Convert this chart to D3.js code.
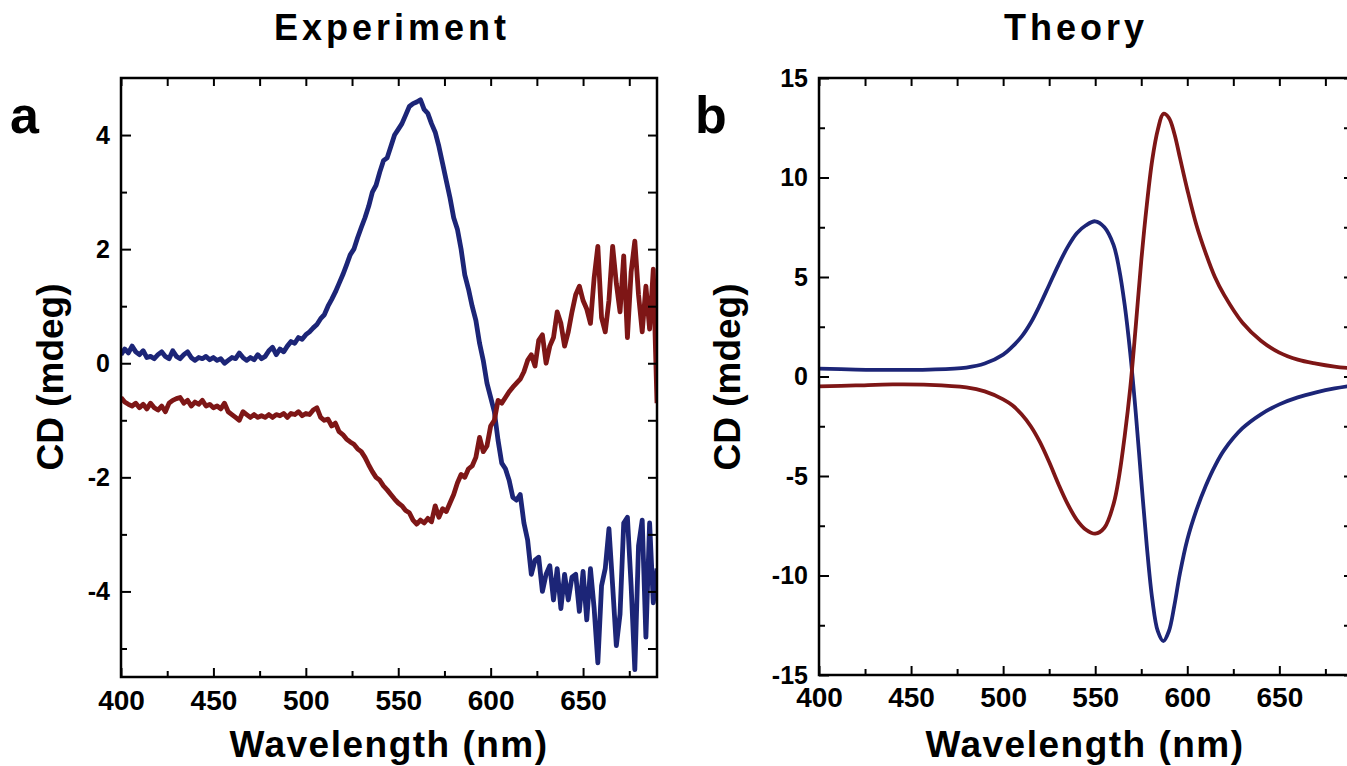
<!DOCTYPE html>
<html>
<head>
<meta charset="utf-8">
<script src="https://cdn.jsdelivr.net/npm/d3@7"></script>
<style>
  body { margin: 0; background: #fff; }
  text { font-family: "Liberation Sans", Arial, Helvetica, sans-serif; font-weight: bold; fill: #000; }
</style>
</head>
<body>
<svg id="fig" width="1347" height="766"></svg>
<script>
// ---- data ----
// experiment: 2 nm grid, 400..690 nm
var expWl = d3.range(400, 691, 2);
var expBlue = [
  0.15, 0.25, 0.18, 0.3, 0.2, 0.15, 0.22, 0.1, 0.12, 0.08,
  0.15, 0.2, 0.12, 0.08, 0.22, 0.12, 0.08, 0.15, 0.2, 0.1,
  0.05, 0.1, 0.08, 0.12, 0.06, 0.1, 0.05, 0.08, 0.0, 0.05,
  0.1, 0.08, 0.18, 0.1, 0.05, 0.1, 0.06, 0.15, 0.08, 0.12,
  0.22, 0.28, 0.15, 0.25, 0.2, 0.3, 0.38, 0.35, 0.45, 0.42,
  0.5, 0.55, 0.62, 0.68, 0.78, 0.85, 1.0, 1.12, 1.25, 1.4,
  1.55, 1.72, 1.9, 2.0, 2.2, 2.38, 2.55, 2.75, 3.0, 3.12,
  3.35, 3.55, 3.6, 3.8, 4.0, 4.1, 4.2, 4.35, 4.5, 4.55,
  4.58, 4.62, 4.45, 4.38, 4.2, 4.05, 3.8, 3.5, 3.2, 2.9,
  2.55, 2.35, 2.0, 1.55, 1.3, 1.0, 0.75, 0.35, 0.05, -0.35,
  -0.6, -0.85, -1.35, -1.75, -1.85, -2.05, -2.35, -2.4, -2.3, -2.8,
  -3.1, -3.7, -3.45, -3.4, -4.0, -3.7, -3.55, -4.15, -3.6, -4.3,
  -3.7, -4.15, -3.75, -3.7, -4.35, -3.65, -4.5, -3.6, -4.3, -5.25,
  -3.9, -3.6, -2.9, -3.9, -4.95, -4.4, -2.8, -2.7, -3.9, -5.37,
  -3.2, -2.75, -4.8, -2.8, -4.2, -3.6
];
var expRed = [
  -0.6, -0.68, -0.72, -0.75, -0.7, -0.78, -0.72, -0.8, -0.7, -0.78,
  -0.82, -0.75, -0.85, -0.7, -0.65, -0.62, -0.6, -0.7, -0.65, -0.75,
  -0.68, -0.72, -0.65, -0.75, -0.72, -0.78, -0.75, -0.8, -0.7, -0.85,
  -0.9, -0.95, -1.0, -0.85, -0.9, -0.95, -0.9, -0.95, -0.92, -0.95,
  -0.9, -0.95, -0.9, -0.92, -0.88, -0.95, -0.88, -0.9, -0.85, -0.92,
  -0.88, -0.9, -0.82, -0.78, -0.95, -1.0, -0.98, -1.1, -1.05, -1.2,
  -1.25, -1.33, -1.38, -1.42, -1.5, -1.55, -1.65, -1.78, -1.9, -2.0,
  -2.05, -2.15, -2.22, -2.3, -2.38, -2.45, -2.5, -2.58, -2.62, -2.75,
  -2.82, -2.75, -2.8, -2.72, -2.78, -2.5, -2.7, -2.55, -2.6, -2.45,
  -2.3, -2.1, -1.95, -2.0, -1.85, -1.8, -1.65, -1.3, -1.55, -1.45,
  -1.1, -1.0, -0.65, -0.7, -0.6, -0.5, -0.42, -0.35, -0.28, -0.15,
  0.05, 0.15, -0.05, 0.4, 0.5, 0.0, 0.3, 0.45, 0.9, 0.7,
  0.3, 0.55, 0.9, 1.2, 1.35, 1.1, 0.95, 0.7, 1.5, 2.05,
  0.8, 0.55, 1.1, 2.05, 1.4, 0.9, 1.88, 0.45, 1.6, 2.14,
  1.2, 0.55, 1.35, 0.6, 1.65, -0.7
];

// theory: smooth curves, sampled where they bend
var theoWl = [400, 420, 440, 460, 480, 490, 500, 505, 510, 515, 520, 525, 530, 535, 540, 545,
  550, 555, 560, 563, 566, 569, 572, 575, 578, 581, 584, 587, 590, 593, 596,
  600, 605, 610, 615, 620, 630, 640, 650, 660, 670, 680, 690];
var theoBlue = [0.4, 0.35, 0.33, 0.35, 0.45, 0.65, 1.1, 1.5, 2.0, 2.7, 3.6, 4.6, 5.6, 6.5, 7.2, 7.6,
  7.8, 7.5, 6.6, 5.4, 3.6, 1.2, -1.8, -5.2, -8.5, -11.2, -12.8, -13.3, -12.8, -11.5, -9.9,
  -8.2, -6.7, -5.5, -4.5, -3.7, -2.6, -1.9, -1.4, -1.05, -0.8, -0.6, -0.45];
var theoRed = [-0.5, -0.45, -0.4, -0.42, -0.55, -0.75, -1.15, -1.45, -1.9, -2.5, -3.3, -4.3, -5.4, -6.4, -7.2, -7.7,
  -7.9, -7.6, -6.4, -5.0, -3.0, -0.6, 2.5, 5.8, 8.6, 10.9, 12.4, 13.2, 13.0, 12.2, 11.0,
  9.4, 7.6, 6.2, 5.0, 4.1, 2.7, 1.8, 1.2, 0.85, 0.65, 0.5, 0.4];

var xMajor = [400, 450, 500, 550, 600, 650];
var xMinor = [425, 475, 525, 575, 625, 675];
var expYMajor = [-4, -2, 0, 2, 4];
var expYMinor = [-5, -3, -1, 1, 3];
var theoYMajor = [-15, -10, -5, 0, 5, 10, 15];
var theoYMinor = [-12.5, -7.5, -2.5, 2.5, 7.5, 12.5];

var BLUE = "#1c2577", RED = "#7e1616";

var svg = d3.select("#fig");

function drawPanel(p) {
  var x = d3.scaleLinear().domain([400, 690]).range([p.left, p.right]);
  var y = d3.scaleLinear().domain(p.yDomain).range([p.bottom, p.top]);
  var g = svg.append("g");

  var clipId = "clip-" + p.name;
  g.append("clipPath").attr("id", clipId).append("rect")
    .attr("x", p.left).attr("y", p.top)
    .attr("width", p.right - p.left).attr("height", p.bottom - p.top);

  var line = d3.line()
    .x(function(d) { return x(d[0]); })
    .y(function(d) { return y(d[1]); })
    .curve(p.curve);

  var lines = g.append("g").attr("clip-path", "url(#" + clipId + ")");
  p.series.forEach(function(s) {
    lines.append("path")
      .datum(d3.zip(p.wl, s.values))
      .attr("fill", "none")
      .attr("stroke", s.color)
      .attr("stroke-width", p.lineWidth)
      .attr("stroke-linejoin", "round")
      .attr("d", line);
  });

  function axis(fn, scale, vals, size, labels, transform, fontSize, pad) {
    var a = fn(scale).tickValues(vals).tickSize(-size).tickSizeOuter(0).tickPadding(pad)
      .tickFormat(labels ? function(d) { return String(d); } : "");
    var ag = g.append("g").attr("transform", transform).call(a);
    ag.attr("font-size", fontSize).attr("font-family", null);
    ag.select(".domain").remove();
    ag.selectAll("line").attr("stroke", "#000").attr("stroke-width", 2);
    ag.selectAll(".tick text").style("font-size", fontSize + "px");
  }

  var bt = "translate(0," + p.bottom + ")", tt = "translate(0," + p.top + ")";
  var lt = "translate(" + p.left + ",0)", rt = "translate(" + p.right + ",0)";
  axis(d3.axisBottom, x, xMajor, 9, true, bt, 28, p.xPad);
  axis(d3.axisBottom, x, xMinor, 6, false, bt, 28, 0);
  axis(d3.axisTop, x, xMajor.concat(xMinor), 8, false, tt, 28, 0);
  axis(d3.axisLeft, y, p.yMajor, 10, true, lt, 25, 11);
  axis(d3.axisLeft, y, p.yMinor, 6, false, lt, 25, 0);
  axis(d3.axisRight, y, p.yMajor.concat(p.yMinor), 9, false, rt, 25, 0);

  // frame
  g.append("rect")
    .attr("x", p.left).attr("y", p.top)
    .attr("width", p.right - p.left).attr("height", p.bottom - p.top)
    .attr("fill", "none").attr("stroke", "#000").attr("stroke-width", 2.5);

  // titles and labels
  g.append("text").attr("x", p.titleX).attr("y", 40)
    .attr("text-anchor", "middle").style("font-size", "36px").style("letter-spacing", "4px")
    .text(p.title);
  g.append("text").attr("x", p.letterX).attr("y", 133)
    .style("font-size", "52px").text(p.letter);
  g.append("text").attr("x", p.xLabelX).attr("y", 757)
    .attr("text-anchor", "middle").style("font-size", "37px").style("letter-spacing", "1.5px")
    .text("Wavelength (nm)");
  g.append("text")
    .attr("transform", "translate(" + p.yLabelX + ",377) rotate(-90)")
    .attr("text-anchor", "middle").style("font-size", "37px")
    .text("CD (mdeg)");
}

drawPanel({
  name: "a", title: "Experiment", letter: "a",
  left: 121, right: 657, top: 78, bottom: 677,
  yDomain: [-5.5, 5], yMajor: expYMajor, yMinor: expYMinor,
  wl: expWl, curve: d3.curveLinear, lineWidth: 4.8,
  series: [{ values: expBlue, color: BLUE }, { values: expRed, color: RED }],
  titleX: 392, letterX: 10, xLabelX: 389, yLabelX: 63, xPad: 13
});

drawPanel({
  name: "b", title: "Theory", letter: "b",
  left: 819, right: 1353, top: 78, bottom: 675,
  yDomain: [-15, 15], yMajor: theoYMajor, yMinor: theoYMinor,
  wl: theoWl, curve: d3.curveCatmullRom.alpha(0.5), lineWidth: 3.8,
  series: [{ values: theoBlue, color: BLUE }, { values: theoRed, color: RED }],
  titleX: 1076, letterX: 695, xLabelX: 1085, yLabelX: 740, xPad: 12
});
</script>
</body>
</html>
